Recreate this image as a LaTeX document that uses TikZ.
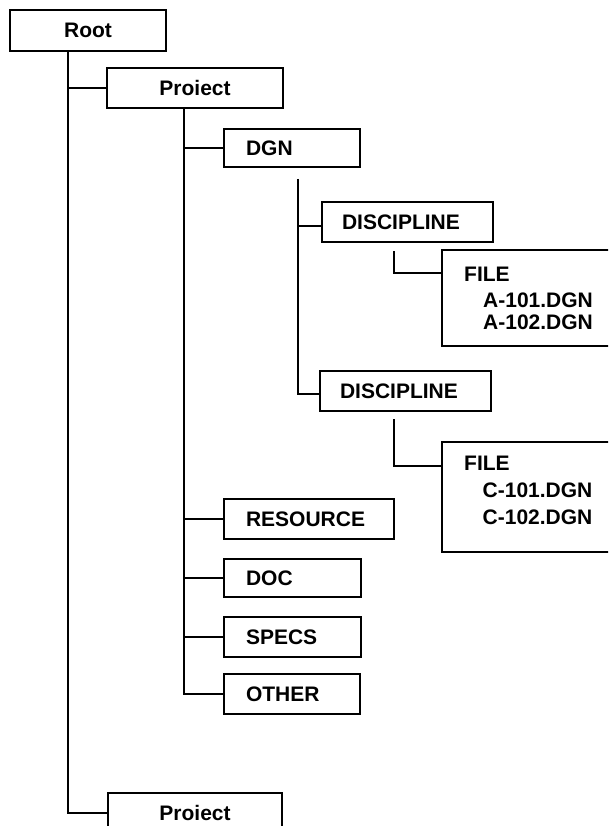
\documentclass[tikz,border=0pt]{standalone}
\usepackage{fontspec}
\setmainfont{Liberation Sans}
\usetikzlibrary{calc}
\tikzset{
  box/.style={draw, line width=2pt, inner ysep=0pt, font=\bfseries\fontsize{21}{25}\selectfont},
  cbox/.style={box, inner xsep=0pt, minimum width=#1},
  lbox/.style={box, align=left, inner xsep=22pt, text width=#1},
  conn/.style={line width=2pt},
  ftxt/.style={anchor=base west, inner sep=0pt, font=\bfseries\fontsize{21}{25}\selectfont}
}
\begin{document}
\begin{tikzpicture}[x=1pt,y=-1pt]
\useasboundingbox (0,0) rectangle (608,826);
\clip (0,0) rectangle (608,826);
% boxes
\node[cbox=156, minimum height=41] (root) at (88,30.5) {Root};
\node[cbox=176, minimum height=40] (p1) at (195,88) {Proiect};
\node[lbox=92, minimum height=38] (dgn) at (292,148) {DGN};
\node[box, align=left, inner xsep=20pt, text width=131, minimum height=40] (d1) at (407.5,222) {DISCIPLINE};
\node[draw, line width=2pt, minimum width=178, minimum height=96, inner sep=0pt] (f1) at (531,298) {};
\node[box, align=left, inner xsep=20pt, text width=131, minimum height=40] (d2) at (405.5,391) {DISCIPLINE};
\node[draw, line width=2pt, minimum width=178, minimum height=110, inner sep=0pt] (f2) at (531,497) {};
\node[lbox=126, minimum height=40] (res) at (309,519) {RESOURCE};
\node[lbox=93, minimum height=38] (doc) at (292.5,578) {DOC};
\node[lbox=93, minimum height=40] (specs) at (292.5,637) {SPECS};
\node[lbox=92, minimum height=40] (other) at (292,694) {OTHER};
\node[cbox=174, minimum height=40] (p2) at (195,813) {Proiect};
% file texts
\node[ftxt] (f1t) at (464,281.5) {FILE};
\node[ftxt] (f1a) at (483,307.3) {A-101.DGN};
\node[ftxt] (f1b) at (483,329.3) {A-102.DGN};
\node[ftxt] (f2t) at (464,470) {FILE};
\node[ftxt] (f2a) at (482.5,497) {C-101.DGN};
\node[ftxt] (f2b) at (482.5,524) {C-102.DGN};
% connector columns
\coordinate (rx) at (68,0);
\coordinate (px) at (184,0);
\coordinate (gx) at (298,0);
\coordinate (fx) at (394,0);
% root level
\draw[conn] (root.south -| rx) |- (p2.west);
\draw[conn] (p1.west) -- (p1.west -| rx);
% project level
\draw[conn] (p1.south -| px) |- (other.west);
\foreach \n in {dgn,res,doc,specs}{
  \draw[conn] (\n.west) -- (\n.west -| px);
}
% DGN level
\draw[conn] ($(dgn.south -| gx)+(0,11)$) |- ($(d2.west)+(0,3)$);
\draw[conn] ($(d1.west)+(0,4)$) -- ($(d1.west -| gx)+(0,4)$);
% discipline to file
\draw[conn] ($(d1.south -| fx)+(0,8)$) |- ($(f1.north west)+(0,24)$);
\draw[conn] ($(d2.south -| fx)+(0,7)$) |- ($(f2.north west)+(0,25)$);
\end{tikzpicture}
\end{document}
